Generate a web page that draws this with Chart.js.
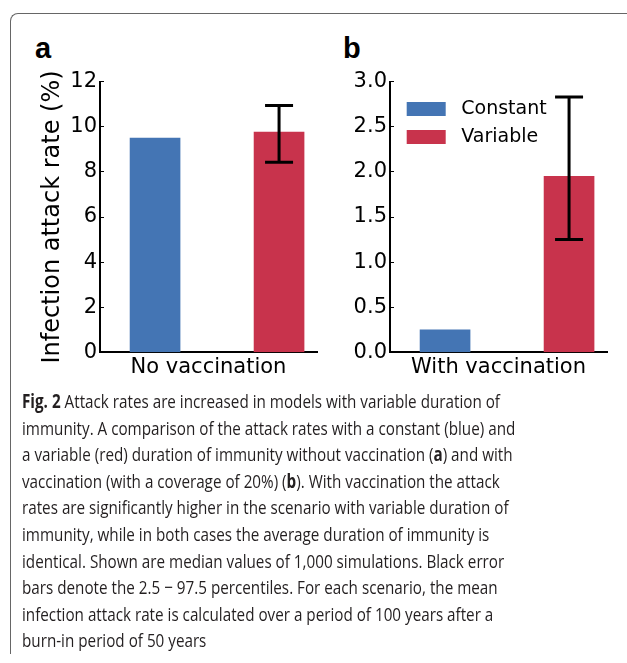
<!DOCTYPE html>
<html>
<head>
<meta charset="utf-8">
<script src="https://cdn.jsdelivr.net/npm/chart.js@4.4.0/dist/chart.umd.min.js"></script>
<style>
  html, body { margin: 0; padding: 0; background: #fff; overflow: hidden; }
  body { width: 627px; height: 663px; position: relative; }
  .frame {
    position: absolute; left: 10px; top: 13px; width: 640px; height: 640px;
    border: 1.5px solid #666; border-right: none; border-bottom: none;
    border-top-left-radius: 8px;
  }
  .panel-label { position: absolute; top: 34px; font: bold 29px/29px "Liberation Sans", Arial, sans-serif; color: #000; }
  .chart-box { position: absolute; top: 60px; width: 310px; height: 330px; }
  .caption {
    position: absolute; left: 22px; top: 388px;
    font-family: "Open Sans", "Noto Sans", sans-serif;
    font-size: 19px; line-height: 26.6px; color: #231f20; white-space: nowrap;
    transform-origin: 0 0;
  }
  .caption div { display: table; }
</style>
</head>
<body>
<div class="frame"></div>
<div class="panel-label" style="left:35px">a</div>
<div class="panel-label" style="left:343px">b</div>
<div class="chart-box" style="left:20px"><canvas id="chartA"></canvas></div>
<div class="chart-box" style="left:310px"><canvas id="chartB"></canvas></div>
<div class="caption" id="caption">
  <div id="capLine1"><b>Fig. 2</b> Attack rates are increased in models with variable duration of</div>
  <div>immunity. A comparison of the attack rates with a constant (blue) and</div>
  <div>a variable (red) duration of immunity without vaccination (<b>a</b>) and with</div>
  <div>vaccination (with a coverage of 20%) (<b>b</b>). With vaccination the attack</div>
  <div>rates are significantly higher in the scenario with variable duration of</div>
  <div>immunity, while in both cases the average duration of immunity is</div>
  <div>identical. Shown are median values of 1,000 simulations. Black error</div>
  <div>bars denote the 2.5 &minus; 97.5 percentiles. For each scenario, the mean</div>
  <div>infection attack rate is calculated over a period of 100 years after a</div>
  <div>burn-in period of 50 years</div>
</div>
<script>
// duration-of-immunity models, bar positions along the x axis
const groups = ['Constant', 'Variable'];
const barX = [0, 1];

// panel a: no vaccination (median, 2.5 and 97.5 percentiles)
const noVaccMedian = [9.5, 9.77];
const noVaccLow = [null, 8.43];
const noVaccHigh = [null, 10.95];

// panel b: with vaccination (20% coverage)
const vaccMedian = [0.25, 1.95];
const vaccLow = [null, 1.25];
const vaccHigh = [null, 2.83];

const yTicksA = [0, 2, 4, 6, 8, 10, 12];
const yTicksB = [0, 0.5, 1.0, 1.5, 2.0, 2.5, 3.0];

const colors = ['#4475b4', '#c8334c'];

Chart.defaults.font.family = 'DejaVu Sans';
Chart.defaults.color = '#000';

// squeeze the caption so its first line is as wide as in the original
function fitCaption() {
    const cap = document.getElementById('caption');
    cap.style.transform = 'none';
    const w = document.getElementById('capLine1').getBoundingClientRect().width;
    cap.style.transform = 'scaleX(' + (478 / w) + ')';
}
fitCaption();

// draws the percentile whiskers on top of the bars
const errorBars = {
    id: 'errorBars',
    afterDatasetsDraw(chart) {
        const { ctx, scales: { x, y } } = chart;
        ctx.save();
        ctx.strokeStyle = '#000';
        ctx.lineWidth = 3;
        chart.data.datasets.forEach(ds => {
            if (ds.errLow == null) return;
            const px = x.getPixelForValue(ds.data[0].x);
            const lo = y.getPixelForValue(ds.errLow);
            const hi = y.getPixelForValue(ds.errHigh);
            ctx.beginPath();
            ctx.moveTo(px, lo); ctx.lineTo(px, hi);
            ctx.moveTo(px - 14, lo); ctx.lineTo(px + 14, lo);
            ctx.moveTo(px - 14, hi); ctx.lineTo(px + 14, hi);
            ctx.stroke();
        });
        ctx.restore();
    }
};

// put the legend in the upper left corner of the plot
const legendPlace = {
    id: 'legendPlace',
    afterLayout(chart) {
        const lg = chart.legend;
        if (!lg || !lg.options.display) return;
        const area = chart.chartArea;
        lg.left = area.left + 7.7;
        lg.top = area.top + 8.8;
        lg.right = lg.left + lg.width;
        lg.bottom = lg.top + lg.height;
    }
};

function makePanel(id, median, low, high, yTicks, yMax, xTitle, yTitle, showLegend, decimals) {
    const datasets = groups.map((g, i) => ({
        label: g,
        data: [{ x: barX[i], y: median[i] }],
        backgroundColor: colors[i],
        borderWidth: 0,
        errLow: low[i],
        errHigh: high[i]
    }));

    return new Chart(document.getElementById(id), {
        type: 'bar',
        data: { datasets },
        plugins: [errorBars, legendPlace],
        options: {
            responsive: true,
            maintainAspectRatio: false,
            animation: false,
            grouped: false,
            barThickness: 50,
            layout: { padding: { top: 21.7, right: 13, bottom: 0, left: 0 } },
            plugins: {
                tooltip: { enabled: false },
                legend: {
                    display: showLegend,
                    position: 'chartArea',
                    align: 'start',
                    labels: {
                        boxWidth: 39,
                        boxHeight: 14,
                        padding: 9,
                        color: '#000',
                        font: { size: 19 },
                        generateLabels(chart) {
                            const items = Chart.defaults.plugins.legend.labels.generateLabels(chart);
                            items.forEach(it => { it.text = ' ' + it.text; });
                            return items;
                        }
                    }
                }
            },
            scales: {
                x: {
                    type: 'linear',
                    min: -0.444,
                    max: 1.306,
                    offset: false,
                    ticks: { display: false },
                    grid: { display: false },
                    border: { display: true, color: '#000', width: 2 },
                    title: {
                        display: true,
                        text: xTitle,
                        color: '#000',
                        font: { size: 21 },
                        padding: { top: 0, bottom: 9.9 }
                    },
                    afterFit(scale) { scale.height = 37.7; }
                },
                y: {
                    min: 0,
                    max: yMax,
                    afterBuildTicks(scale) { scale.ticks = yTicks.map(v => ({ value: v })); },
                    ticks: {
                        padding: 7,
                        color: '#000',
                        font: { size: 21 },
                        callback: v => v.toFixed(decimals)
                    },
                    grid: {
                        drawOnChartArea: false,
                        drawTicks: true,
                        tickLength: -4,
                        color: '#000',
                        lineWidth: 1
                    },
                    border: { display: true, color: '#000', width: 2 },
                    title: {
                        display: !!yTitle,
                        text: yTitle,
                        color: '#000',
                        font: { size: 24 },
                        padding: { top: 18.6, bottom: 0 }
                    },
                    afterFit(scale) { scale.width = 80; }
                }
            }
        }
    });
}

makePanel('chartA', noVaccMedian, noVaccLow, noVaccHigh, yTicksA, 12,
    'No vaccination', 'Infection attack rate (%)', false, 0);
makePanel('chartB', vaccMedian, vaccLow, vaccHigh, yTicksB, 3,
    'With vaccination', '', true, 1);
</script>
</body>
</html>
